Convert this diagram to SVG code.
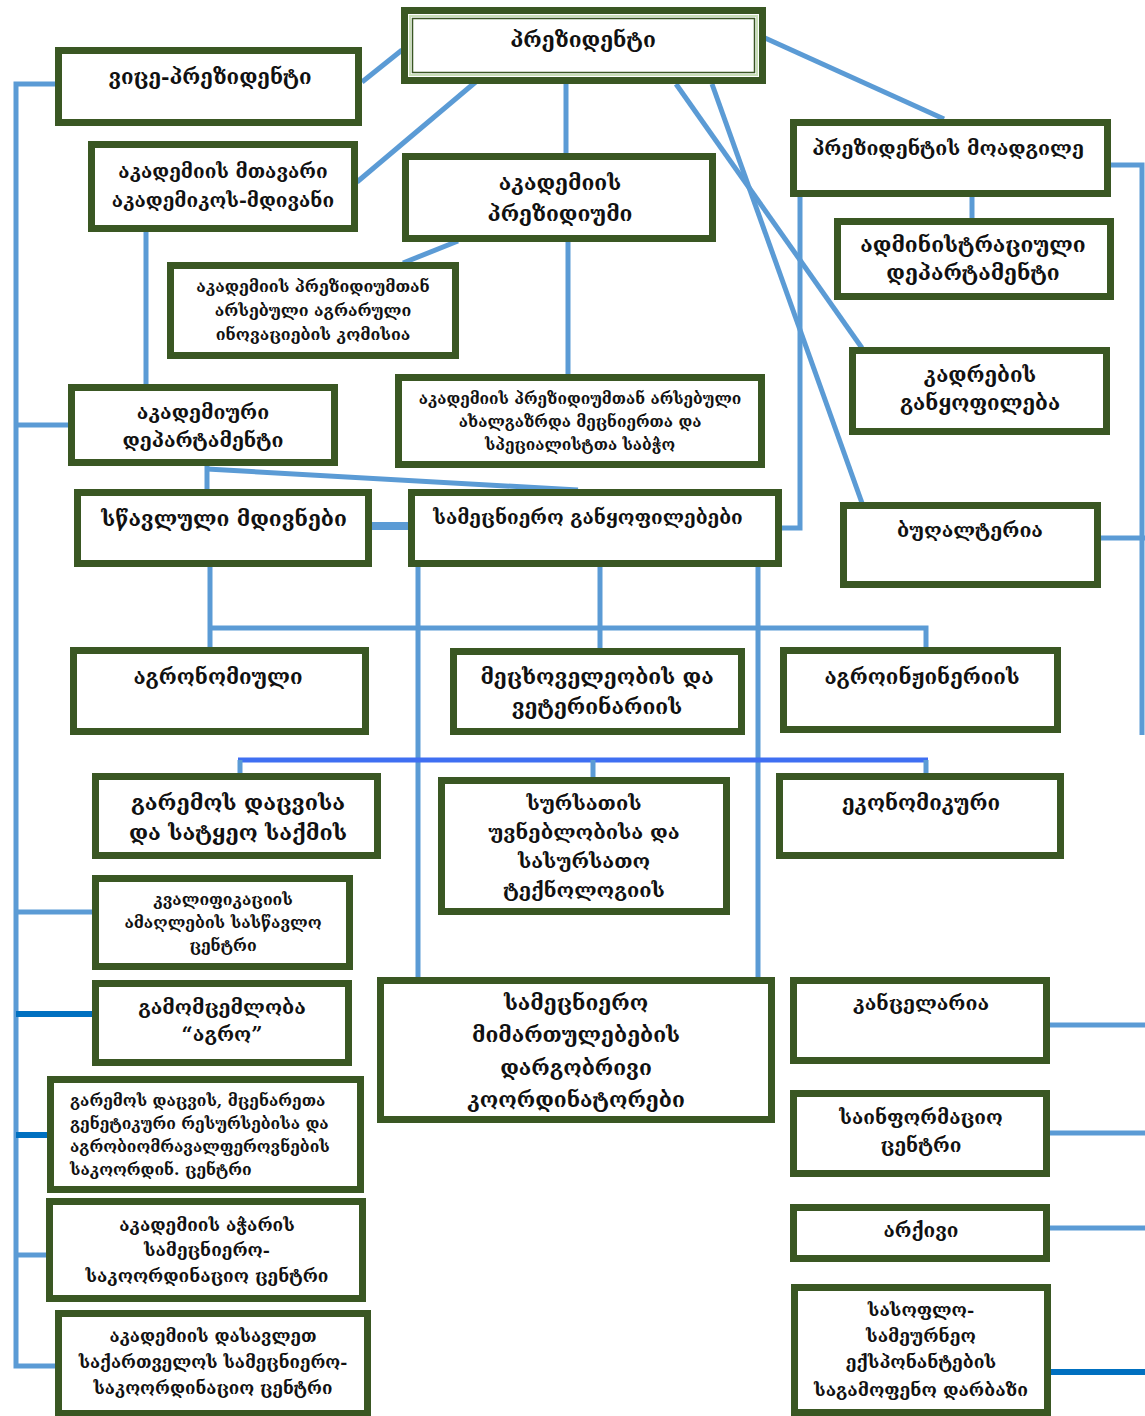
<svg xmlns="http://www.w3.org/2000/svg" width="1145" height="1416" viewBox="0 0 1145 1416">
<style>
.box{fill:#fff;stroke:#3a5723;stroke-width:7}
.t{font-family:"DejaVu Serif","DejaVu Sans",serif;font-weight:bold;fill:#111;text-anchor:middle}
.c{stroke:#5b9bd5;stroke-width:5;fill:none}
.d{stroke:#0070c0;stroke-width:6;fill:none}
.b{stroke:#3f6ff2;stroke-width:5;fill:none}
</style>
<rect width="1145" height="1416" fill="#fff"/>
<g id="connectors">
<path class="c" d="M362,82 L402,50"/>
<path class="c" d="M478,80 L357,182"/>
<path class="c" d="M566,84 V154"/>
<path class="c" d="M765,38 L944,119"/>
<path class="c" d="M676,84 L862,348"/>
<path class="c" d="M712,84 L862,503"/>
<path class="c" d="M458,241 L403,263"/>
<path class="c" d="M568,242 V375"/>
<path class="c" d="M146,232 V385"/>
<path class="c" d="M972,197 V219"/>
<path class="c" d="M800,197 V528 H782"/>
<path class="c" d="M207,466 V490"/>
<path class="c" d="M207,469 L578,490"/>
<path class="c" d="M372,526 H408" style="stroke-width:8"/>
<path class="c" d="M210,567 V648 M210,628 H926 V648 M600,567 V649"/>
<path class="c" d="M418,567 V978 M758,567 V978"/>
<path class="b" d="M238,760 H928"/>
<path class="c" d="M240,760 V774 M593,760 V778 M926,760 V774"/>
<path class="c" d="M56,84 H16 V1366 H57"/>
<path class="c" d="M16,425 H69 M16,912 H93 M16,1255 H47"/>
<path class="d" d="M16,1014 H93 M16,1135 H48"/>
<path class="c" d="M1111,165 H1142 V735 M1101,538 H1145"/>
<path class="c" d="M1050,1025 H1145 M1050,1133 H1145 M1050,1228 H1145"/>
<path class="d" d="M1051,1372 H1145"/>
</g>
<g id="n1" font-size="21"><rect class="box" x="404.5" y="10.5" width="358" height="70"/><rect x="410" y="16" width="347" height="59" fill="none" stroke="#c9dfb8" stroke-width="2"/><rect x="412.5" y="18.5" width="342" height="54" fill="none" stroke="#3a5723" stroke-width="1.5"/><text class="t" x="583" y="47">პრეზიდენტი</text></g>
<g id="n2" font-size="20.5"><rect class="box" x="58.5" y="50.5" width="300" height="72"/><text class="t" x="210" y="84">ვიცე-პრეზიდენტი</text></g>
<g id="n3" font-size="19"><rect class="box" x="91.5" y="144.5" width="263" height="84"/><text class="t" x="223" y="178">აკადემიის მთავარი</text><text class="t" x="223" y="207">აკადემიკოს-მდივანი</text></g>
<g id="n4" font-size="21"><rect class="box" x="405.5" y="156.5" width="307" height="82"/><text class="t" x="560" y="190">აკადემიის</text><text class="t" x="560" y="221">პრეზიდიუმი</text></g>
<g id="n5" font-size="19.5"><rect class="box" x="793.5" y="122.5" width="314" height="71"/><text class="t" x="948" y="155">პრეზიდენტის მოადგილე</text></g>
<g id="n6" font-size="21"><rect class="box" x="837.5" y="221.5" width="273" height="75"/><text class="t" x="973" y="252">ადმინისტრაციული</text><text class="t" x="973" y="280">დეპარტამენტი</text></g>
<g id="n7" font-size="16"><rect class="box" x="170.5" y="265.5" width="285" height="90"/><text class="t" x="313" y="292">აკადემიის პრეზიდიუმთან</text><text class="t" x="313" y="316">არსებული აგრარული</text><text class="t" x="313" y="340">ინოვაციების კომისია</text></g>
<g id="n8" font-size="15.5"><rect class="box" x="398.5" y="377.5" width="363" height="87"/><text class="t" x="580" y="404">აკადემიის პრეზიდიუმთან არსებული</text><text class="t" x="580" y="427">ახალგაზრდა მეცნიერთა და</text><text class="t" x="580" y="450">სპეციალისტთა საბჭო</text></g>
<g id="n9" font-size="20.5"><rect class="box" x="852.5" y="350.5" width="254" height="81"/><text class="t" x="980" y="382">კადრების</text><text class="t" x="980" y="410">განყოფილება</text></g>
<g id="n10" font-size="19.5"><rect class="box" x="71.5" y="387.5" width="263" height="75"/><text class="t" x="203" y="419">აკადემიური</text><text class="t" x="203" y="447">დეპარტამენტი</text></g>
<g id="n11" font-size="21"><rect class="box" x="77.5" y="492.5" width="291" height="71"/><text class="t" x="224" y="526">სწავლული მდივნები</text></g>
<g id="n12" font-size="19"><rect class="box" x="411.5" y="492.5" width="367" height="71"/><text class="t" x="588" y="524">სამეცნიერო განყოფილებები</text></g>
<g id="n13" font-size="19.5"><rect class="box" x="843.5" y="505.5" width="254" height="79"/><text class="t" x="970" y="537">ბუღალტერია</text></g>
<g id="n14" font-size="20.5"><rect class="box" x="73.5" y="650.5" width="292" height="81"/><text class="t" x="218" y="684">აგრონომიული</text></g>
<g id="n15" font-size="21"><rect class="box" x="453.5" y="651.5" width="288" height="80"/><text class="t" x="597" y="684">მეცხოველეობის და</text><text class="t" x="597" y="714">ვეტერინარიის</text></g>
<g id="n16" font-size="20.5"><rect class="box" x="783.5" y="650.5" width="274" height="79"/><text class="t" x="922" y="684">აგროინჟინერიის</text></g>
<g id="n17" font-size="21.5"><rect class="box" x="95.5" y="776.5" width="282" height="79"/><text class="t" x="238" y="810">გარემოს დაცვისა</text><text class="t" x="238" y="840">და სატყეო საქმის</text></g>
<g id="n18" font-size="20"><rect class="box" x="441.5" y="780.5" width="285" height="131"/><text class="t" x="584" y="810">სურსათის</text><text class="t" x="584" y="839">უვნებლობისა და</text><text class="t" x="584" y="868">სასურსათო</text><text class="t" x="584" y="897">ტექნოლოგიის</text></g>
<g id="n19" font-size="20.5"><rect class="box" x="779.5" y="776.5" width="281" height="79"/><text class="t" x="921" y="810">ეკონომიკური</text></g>
<g id="n20" font-size="15.8"><rect class="box" x="95.5" y="878.5" width="254" height="88"/><text class="t" x="223" y="905">კვალიფიკაციის</text><text class="t" x="223" y="928">ამაღლების სასწავლო</text><text class="t" x="223" y="951">ცენტრი</text></g>
<g id="n21" font-size="19.5"><rect class="box" x="95.5" y="983.5" width="253" height="79"/><text class="t" x="222" y="1014">გამომცემლობა</text><text class="t" x="222" y="1041">“აგრო”</text></g>
<g id="n22" font-size="15.7"><rect class="box" x="50.5" y="1079.5" width="310" height="110"/><g class="t" style="text-anchor:start"><text x="70" y="1106">გარემოს დაცვის, მცენარეთა</text><text x="70" y="1129">გენეტიკური რესურსებისა და</text><text x="70" y="1152">აგრობიომრავალფეროვნების</text><text x="70" y="1175">საკოორდინ. ცენტრი</text></g></g>
<g id="n23" font-size="17.3"><rect class="box" x="49.5" y="1201.5" width="313" height="97"/><text class="t" x="207" y="1231">აკადემიის აჭარის</text><text class="t" x="207" y="1256">სამეცნიერო-</text><text class="t" x="207" y="1282">საკოორდინაციო ცენტრი</text></g>
<g id="n24" font-size="17"><rect class="box" x="58.5" y="1313.5" width="309" height="100"/><text class="t" x="213" y="1342">აკადემიის დასავლეთ</text><text class="t" x="213" y="1368">საქართველოს სამეცნიერო-</text><text class="t" x="213" y="1394">საკოორდინაციო ცენტრი</text></g>
<g id="n25" font-size="21"><rect class="box" x="380.5" y="980.5" width="391" height="139"/><text class="t" x="576" y="1010">სამეცნიერო</text><text class="t" x="576" y="1042">მიმართულებების</text><text class="t" x="576" y="1075">დარგობრივი</text><text class="t" x="576" y="1107">კოორდინატორები</text></g>
<g id="n26" font-size="19.5"><rect class="box" x="793.5" y="980.5" width="253" height="80"/><text class="t" x="921" y="1010">კანცელარია</text></g>
<g id="n27" font-size="19"><rect class="box" x="793.5" y="1093.5" width="253" height="80"/><text class="t" x="921" y="1124">საინფორმაციო</text><text class="t" x="921" y="1152">ცენტრი</text></g>
<g id="n28" font-size="19"><rect class="box" x="793.5" y="1207.5" width="253" height="51"/><text class="t" x="921" y="1237">არქივი</text></g>
<g id="n29" font-size="17.5"><rect class="box" x="794.5" y="1287.5" width="253" height="125"/><text class="t" x="921" y="1316">სასოფლო-</text><text class="t" x="921" y="1342">სამეურნეო</text><text class="t" x="921" y="1368">ექსპონანტების</text><text class="t" x="921" y="1396">საგამოფენო დარბაზი</text></g>
</svg>
